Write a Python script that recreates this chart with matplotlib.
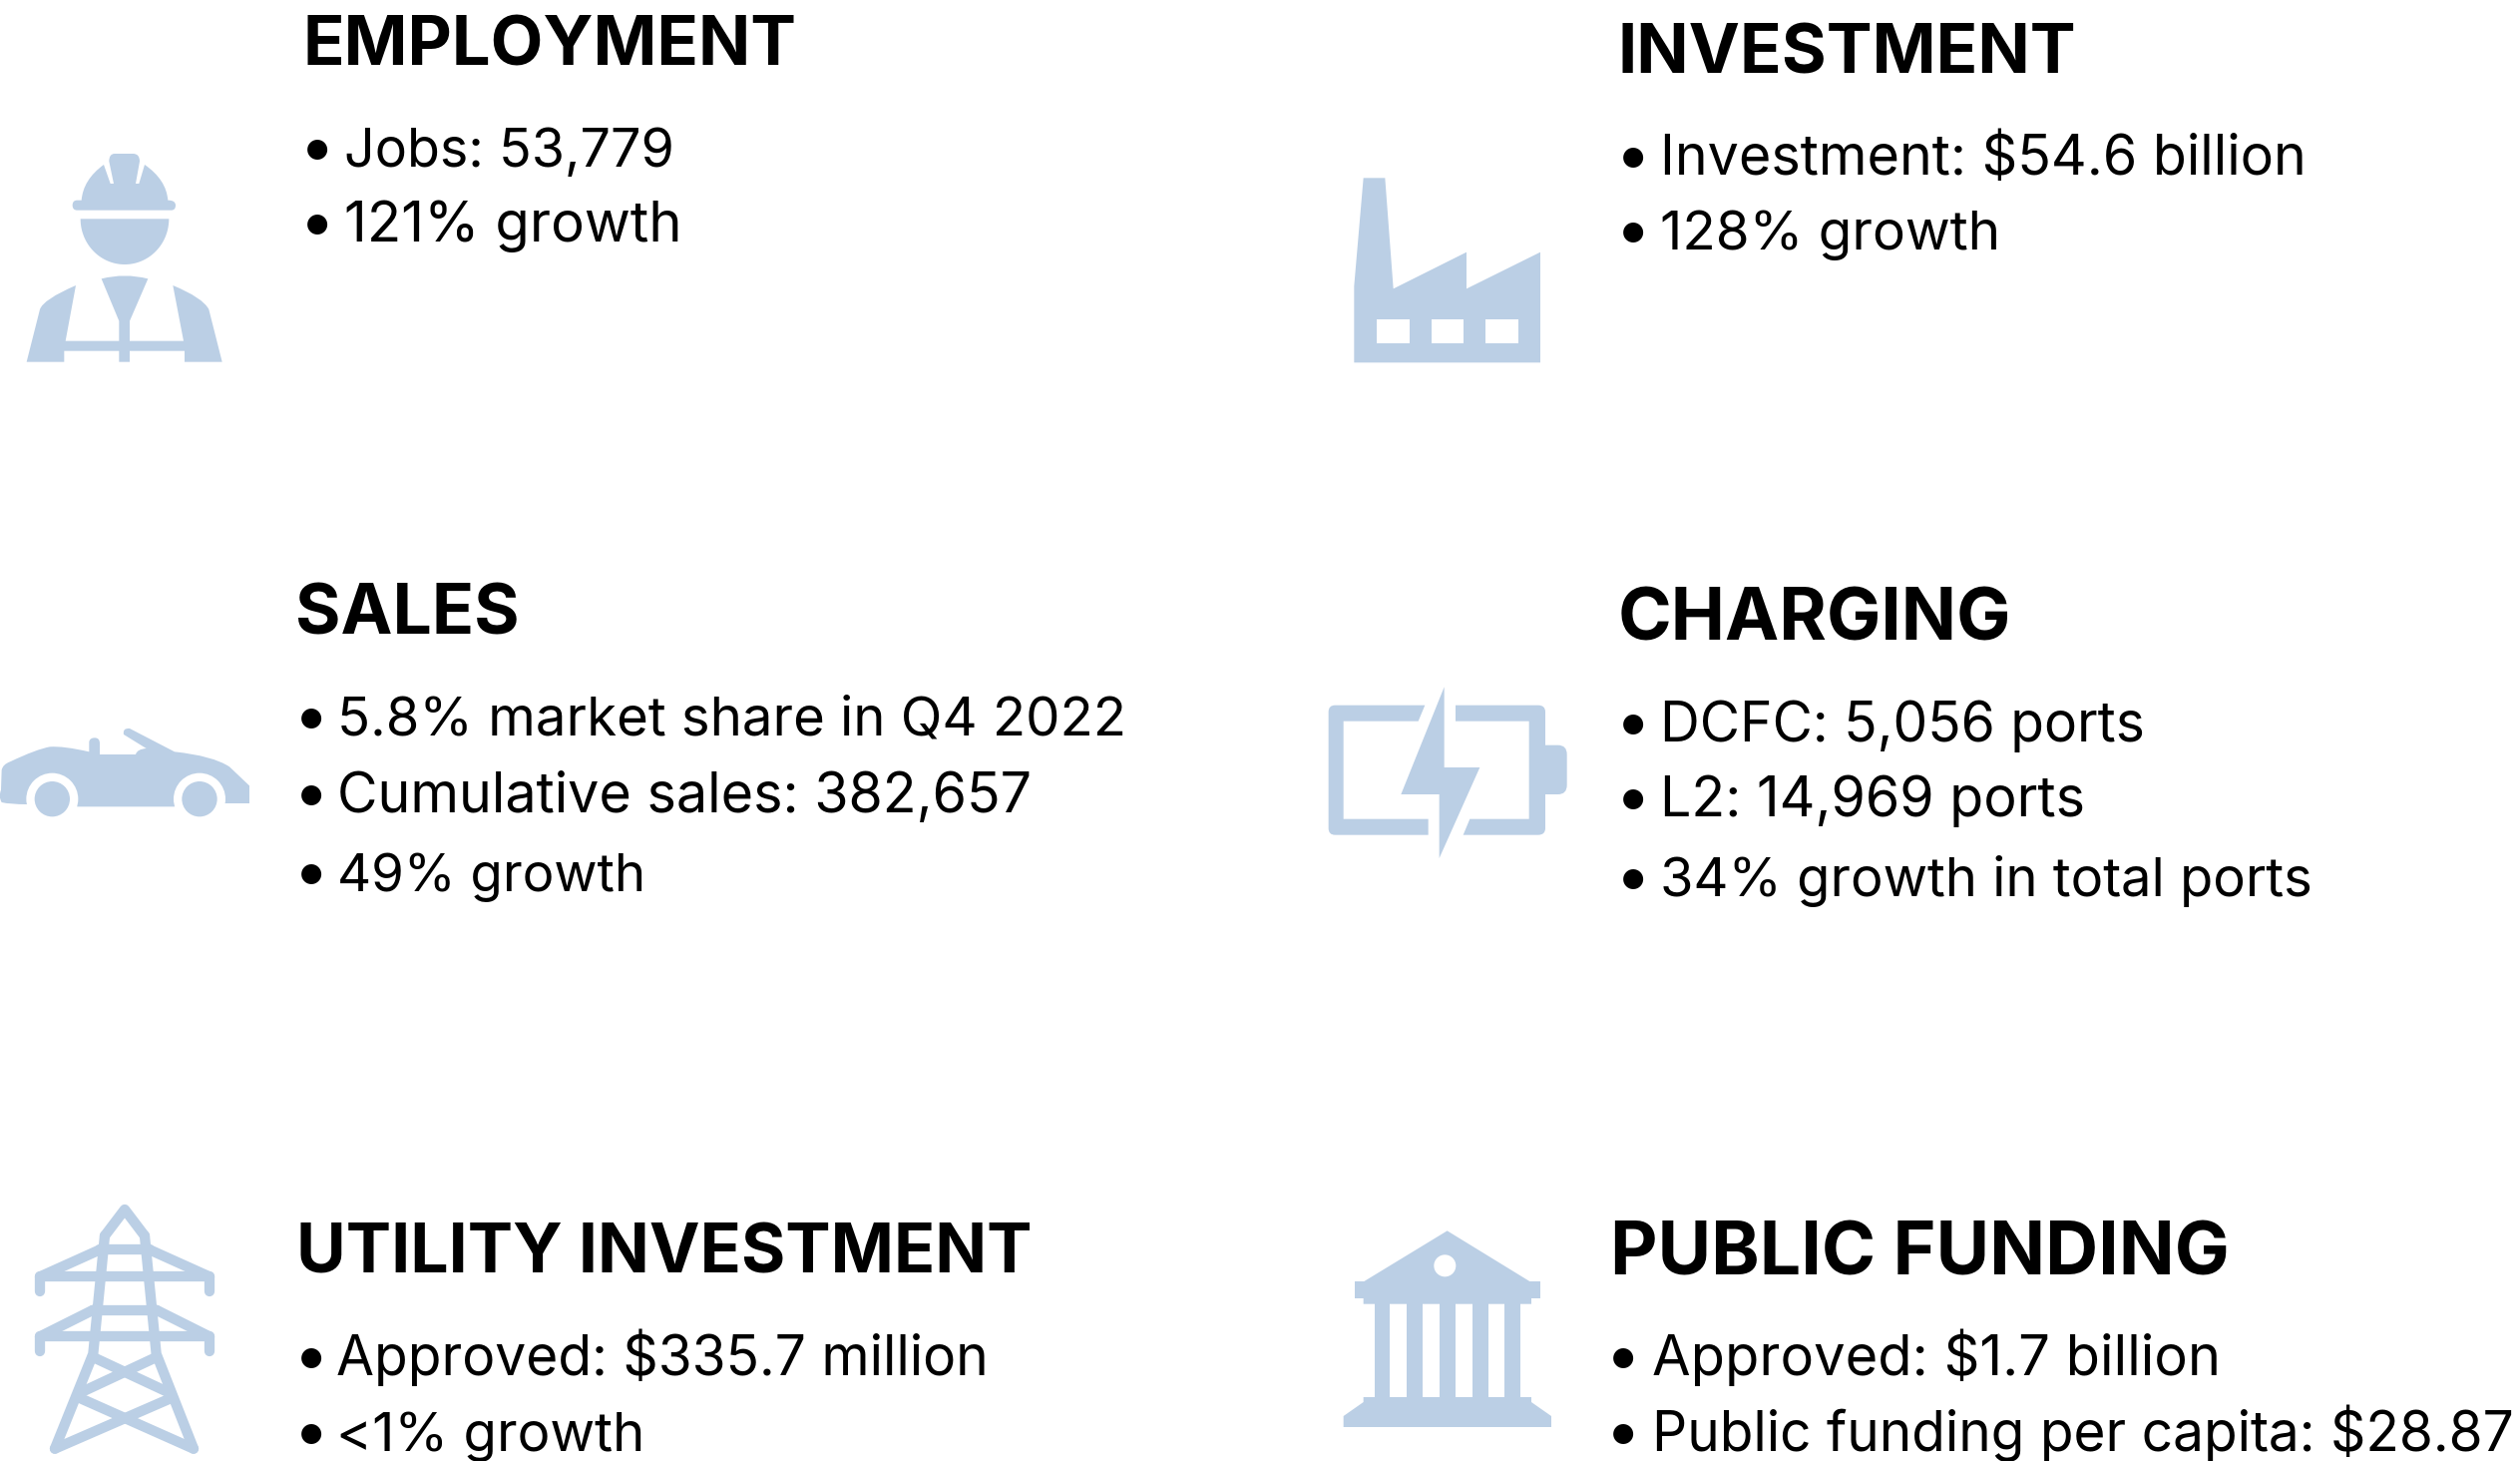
import numpy as np
import matplotlib
matplotlib.use("Agg")
import matplotlib.pyplot as plt
from matplotlib.path import Path
from matplotlib.patches import PathPatch, Polygon, Circle, Rectangle

W, H = 2526, 1464
ICON = "#BBCFE5"
FONT = "Inter"

titles = ["EMPLOYMENT", "INVESTMENT", "SALES", "CHARGING", "UTILITY INVESTMENT", "PUBLIC FUNDING"]
bullets = [
    ["Jobs: 53,779", "121% growth"],
    ["Investment: $54.6 billion", "128% growth"],
    ["5.8% market share in Q4 2022", "Cumulative sales: 382,657", "49% growth"],
    ["DCFC: 5,056 ports", "L2: 14,969 ports", "34% growth in total ports"],
    ["Approved: $335.7 million", "<1% growth"],
    ["Approved: $1.7 billion", "Public funding per capita: $28.87"],
]
title_x = [304, 1622, 296, 1622, 297, 1614]
title_base = [65, 73, 636, 641, 1276, 1277]
title_size = [49.4, 49.5, 50.1, 52.3, 48.9, 52.8]
bullet_x = [303, 1622, 297, 1622, 297, 1612]
text_x = [345, 1664, 338, 1664, 337, 1656]
line_base = [[167, 242], [175, 250], [737, 814, 893], [743, 818, 898], [1378, 1454], [1378, 1454]]
line_size = [[38.7, 40.5], [40, 39.5], [39.2, 40, 38], [39.7, 40, 39.1], [39.7, 39.4], [40.3, 39.6]]

fig = plt.figure(figsize=(W / 100, H / 100), dpi=100, facecolor="white")
ax = fig.add_axes([0, 0, 1, 1])
ax.set_xlim(0, W)
ax.set_ylim(H, 0)
ax.axis("off")


def tf(ox, oy, pts):
    return [(ox + x / 3, oy + y / 3) for x, y in pts]


def poly(ox, oy, pts, color=ICON):
    ax.add_patch(Polygon(tf(ox, oy, pts), closed=True, fc=color, ec="none"))


def rect(ox, oy, x0, y0, x1, y1, color=ICON):
    ax.add_patch(Rectangle((ox + x0 / 3, oy + y0 / 3), (x1 - x0) / 3, (y1 - y0) / 3, fc=color, ec="none"))


def circ(ox, oy, x, y, r, color=ICON):
    ax.add_patch(Circle((ox + x / 3, oy + y / 3), r / 3, fc=color, ec="none"))


def curve(ox, oy, segs):
    """segs: list of points; a 4-tuple (cx, cy, x, y) is a quadratic segment."""
    verts, codes = [], []
    for i, s in enumerate(segs):
        if len(s) == 2:
            verts.append(s)
            codes.append(Path.MOVETO if i == 0 else Path.LINETO)
        else:
            verts += [(s[0], s[1]), (s[2], s[3])]
            codes += [Path.CURVE3, Path.CURVE3]
    verts.append(verts[0])
    codes.append(Path.CLOSEPOLY)
    verts = [(ox + x / 3, oy + y / 3) for x, y in verts]
    ax.add_patch(PathPatch(Path(verts, codes), fc=ICON, ec="none"))


def stroke(ox, oy, pts, lw=7.4):
    p = tf(ox, oy, pts)
    ax.plot([a for a, _ in p], [b for _, b in p], color=ICON, lw=lw,
            solid_capstyle="round", solid_joinstyle="round")


# worker
ox, oy = 0, 130
curve(ox, oy, [(232, 212), (218, 212, 218, 227), (218, 242, 232, 242), (515, 242), (528, 242, 528, 227),
               (528, 212, 505, 212), (500, 150, 435, 105), (418, 162), (408, 162), (420, 95),
               (420, 72, 400, 72), (345, 72), (328, 72, 328, 95), (342, 162), (332, 162), (312, 105),
               (250, 150, 245, 212)])
t = np.linspace(0, np.pi, 60)
poly(ox, oy, list(zip(375 + 133 * np.cos(t), 268 + 137 * np.sin(t))))
curve(ox, oy, [(228, 468), (130, 510, 120, 540), (80, 698), (193, 698), (193, 665), (358, 665), (358, 698),
               (390, 698), (390, 665), (555, 665), (555, 698), (668, 698), (628, 540), (610, 505, 520, 468),
               (552, 635), (390, 635), (390, 575), (445, 448), (375, 430, 305, 448), (358, 575), (358, 635),
               (197, 635)])

# factory
ox, oy = 1320, 160
poly(ox, oy, [(112, 610), (112, 380), (140, 55), (205, 55), (230, 388), (450, 278), (450, 388), (672, 278), (672, 610)])
for a, b in [(180, 278), (344, 440), (507, 606)]:
    rect(ox, oy, a, 480, b, 552, "white")

# car
ox, oy = 0, 700
curve(ox, oy, [(5, 215), (8, 198, 30, 190), (110, 152, 150, 145), (190, 142, 268, 160), (268, 130),
               (270, 118, 285, 118), (300, 118, 300, 135), (300, 168), (408, 168), (412, 152, 440, 150),
               (372, 108), (368, 88, 390, 90), (525, 160), (640, 172, 690, 205), (750, 262), (750, 315),
               (678, 315), (522, 325), (235, 325), (80, 318), (30, 318, 5, 312), (-5, 295, 3, 275)])
for cx in (157, 600):
    circ(ox, oy, cx, 302, 78, "white")
    circ(ox, oy, cx, 302, 53)

# battery
ox, oy = 1310, 670
curve(ox, oy, [(355, 110), (85, 110), (65, 110, 65, 130), (65, 480), (65, 500, 85, 500), (365, 500), (365, 452),
               (110, 452), (110, 158), (335, 158)])
curve(ox, oy, [(447, 110), (695, 110), (717, 110, 717, 130), (717, 230), (755, 230), (782, 230, 782, 258), (782, 350),
               (782, 378, 755, 378), (717, 378), (717, 480), (717, 500, 695, 500), (470, 500), (490, 452), (668, 452),
               (668, 158), (447, 158)])
poly(ox, oy, [(413, 55), (413, 297), (520, 297), (398, 570), (398, 378), (283, 378)])

# tower
ox, oy = 10, 1190
for pts in [
    [(285, 145), (345, 66), (405, 145)],
    [(285, 145), (250, 500), (135, 785)],
    [(405, 145), (440, 500), (552, 785)],
    [(270, 187), (420, 187)],
    [(90, 312), (90, 268), (600, 268), (600, 312)],
    [(90, 268), (270, 187)],
    [(600, 268), (420, 187)],
    [(90, 492), (90, 448), (600, 448), (600, 492)],
    [(90, 448), (250, 368)],
    [(600, 448), (440, 368)],
    [(250, 368), (440, 368)],
    [(250, 510), (475, 615)],
    [(440, 510), (215, 615)],
    [(215, 635), (552, 785)],
    [(480, 635), (135, 785)],
]:
    stroke(ox, oy, pts)

# bank
ox, oy = 1330, 1220
poly(ox, oy, [(362, 40), (610, 192), (642, 192), (642, 243), (615, 243), (615, 260), (110, 260), (110, 243),
              (84, 243), (84, 192), (112, 192)])
circ(ox, oy, 355, 145, 33, "white")
for a, b in [(143, 190), (240, 289), (338, 388), (437, 485), (535, 583)]:
    rect(ox, oy, a, 258, b, 542)
poly(ox, oy, [(110, 540), (615, 540), (615, 555), (675, 597), (675, 630), (50, 630), (50, 597), (110, 555)])

# text
for i, title in enumerate(titles):
    ax.text(title_x[i], title_base[i], title, family=FONT, weight="bold", fontsize=title_size[i],
            color="black", ha="left", va="baseline")
    for line, base, size in zip(bullets[i], line_base[i], line_size[i]):
        ax.text(bullet_x[i], base + 1, "•", family=FONT, weight="bold", fontsize=46, color="black", ha="left", va="baseline")
        ax.text(text_x[i], base, line, family=FONT, fontsize=size, color="black", ha="left", va="baseline")

fig.savefig("out.png", dpi=100)
